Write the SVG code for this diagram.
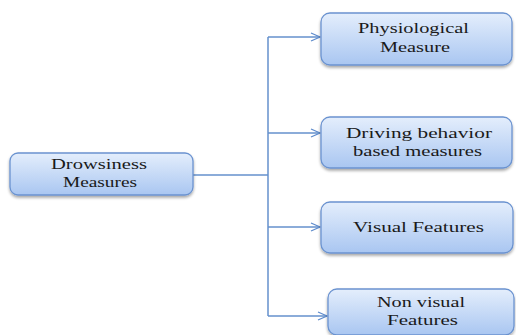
<svg xmlns="http://www.w3.org/2000/svg" width="516" height="335" viewBox="0 0 516 335">
<defs>
<linearGradient id="g" x1="0" y1="0" x2="0" y2="1">
<stop offset="0" stop-color="#e4eefc"/>
<stop offset="1" stop-color="#a9c6f1"/>
</linearGradient>
<filter id="sh" x="-10%" y="-20%" width="120%" height="150%">
<feGaussianBlur in="SourceAlpha" stdDeviation="1.5"/>
<feOffset dx="0" dy="2" result="b"/>
<feComponentTransfer><feFuncA type="linear" slope="0.35"/></feComponentTransfer>
<feMerge><feMergeNode/><feMergeNode in="SourceGraphic"/></feMerge>
</filter>
<marker id="arr" markerWidth="12" markerHeight="10" refX="10" refY="5" orient="auto" markerUnits="userSpaceOnUse">
<path d="M1,1 L10,5 L1,9" fill="none" stroke="#5f8ccc" stroke-width="1.3"/>
</marker>
</defs>
<style>
.box{fill:url(#g);stroke:#6b93d0;stroke-width:1.3;filter:url(#sh)}
.t{font-family:'Liberation Serif','Times New Roman',serif;font-size:15px;fill:#1a1a1a}
.c{fill:none;stroke:#6590cd;stroke-width:1.5}
</style>
<rect width="516" height="335" fill="#fff"/>
<g id="connectors">
<path class="c" d="M193,175 H268"/>
<path class="c" d="M268,37 V316"/>
<path class="c" d="M268,37 H320" marker-end="url(#arr)"/>
<path class="c" d="M268,133 H320" marker-end="url(#arr)"/>
<path class="c" d="M268,227 H320" marker-end="url(#arr)"/>
<path class="c" d="M268,316 H327" marker-end="url(#arr)"/>
</g>
<g id="drowsiness">
<rect class="box" x="10" y="153" width="183" height="42" rx="8"/>
<text class="t" x="51" y="169" textLength="96" lengthAdjust="spacingAndGlyphs">Drowsiness</text>
<text class="t" x="63" y="187" textLength="74" lengthAdjust="spacingAndGlyphs">Measures</text>
</g>
<g id="physiological">
<rect class="box" x="321" y="13" width="191" height="52" rx="9"/>
<text class="t" x="358" y="33" textLength="111" lengthAdjust="spacingAndGlyphs">Physiological</text>
<text class="t" x="380" y="52" textLength="70" lengthAdjust="spacingAndGlyphs">Measure</text>
</g>
<g id="driving">
<rect class="box" x="321" y="117" width="191" height="51" rx="9"/>
<text class="t" x="346" y="138" textLength="146" lengthAdjust="spacingAndGlyphs">Driving behavior</text>
<text class="t" x="353" y="156" textLength="129" lengthAdjust="spacingAndGlyphs">based measures</text>
</g>
<g id="visual">
<rect class="box" x="321" y="202" width="192" height="51" rx="9"/>
<text class="t" x="353" y="232" textLength="131" lengthAdjust="spacingAndGlyphs">Visual Features</text>
</g>
<g id="nonvisual">
<rect class="box" x="328" y="289" width="186" height="46" rx="9"/>
<text class="t" x="377" y="307" textLength="88" lengthAdjust="spacingAndGlyphs">Non visual</text>
<text class="t" x="387" y="325" textLength="71" lengthAdjust="spacingAndGlyphs">Features</text>
</g>
</svg>
